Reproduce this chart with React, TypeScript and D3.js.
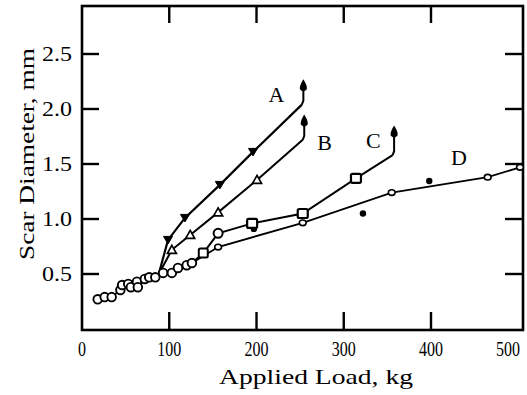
import React from "react";
import * as d3 from "d3";

const xTickValues = [0, 100, 200, 300, 400, 500];
const yTickValues = [0.5, 1.0, 1.5, 2.0, 2.5];
const yTickLabels = ["0.5", "1.0", "1.5", "2.0", "2.5"];

// shared low-load cluster
const loadCluster = [18, 26, 34, 44, 46, 53, 56, 63, 64, 72, 77, 84, 93, 103, 110, 120, 126, 139];
const diaCluster = [0.27, 0.29, 0.29, 0.355, 0.4, 0.41, 0.38, 0.43, 0.38, 0.455, 0.47, 0.47, 0.51, 0.51, 0.555, 0.58, 0.6, 0.69];

// curve A (filled down triangles)
const loadA = [88, 98.6, 118, 158, 196, 252];
const diaA = [0.5, 0.81, 1.01, 1.31, 1.61, 2.04];
const arrowA = 2.27;

// curve B (open triangles)
const loadB = [88, 103, 124, 156, 200.6, 253];
const diaB = [0.5, 0.72, 0.855, 1.06, 1.355, 1.72];
const arrowB = 1.95;

// curve C (open squares)
const loadC = [139, 156, 195, 253, 314, 356];
const diaC = [0.69, 0.87, 0.96, 1.05, 1.37, 1.58];
const arrowC = 1.85;

// curve D (small open circles)
const loadD = [126, 156, 253, 355, 465, 502];
const diaD = [0.6, 0.745, 0.965, 1.24, 1.38, 1.47];

// loose filled dots
const loadDots = [197, 322, 398];
const diaDots = [0.91, 1.05, 1.345];

const curveNames = ["A", "B", "C", "D"];
const labelLoad = [223, 278, 334, 432];
const labelDia = [2.06, 1.63, 1.65, 1.49];

const FONT = "Liberation Serif, Times New Roman, Times, serif";

export default function App() {
  const W = 527, H = 395;
  const left = 82, right = 523, top = 6, bottom = 330;
  const x = d3.scaleLinear().domain([0, 400]).range([82, 431]);
  const y = d3.scaleLinear().domain([0, 2.5]).range([329, 54]);

  const line = d3
    .line<[number, number]>()
    .x((d) => x(d[0]))
    .y((d) => y(d[1]));

  const zip = (a: number[], b: number[]) => a.map((v, i) => [v, b[i]] as [number, number]);

  const cluster = zip(loadCluster, diaCluster);
  const A = zip(loadA, diaA);
  const B = zip(loadB, diaB);
  const C = zip(loadC, diaC);
  const D = zip(loadD, diaD);

  const arrow = (px: number, tipY: number, key: string) => (
    <path
      key={key}
      d={`M${px},${tipY} C${px + 2},${tipY + 3} ${px + 4},${tipY + 7} ${px + 3.5},${tipY + 10} Q${px},${tipY + 14} ${px - 3.5},${tipY + 10} C${px - 4},${tipY + 7} ${px - 2},${tipY + 3} ${px},${tipY} Z`}
      fill="#000"
    />
  );

  const endWithArrow = (pts: [number, number][], tip: number, key: string) => {
    const last = pts[pts.length - 1];
    const ex = x(last[0]) + 1.5;
    return (
      <g key={key}>
        <path d={`M${x(last[0])},${y(last[1])} L${ex},${y(last[1]) - 4} L${ex},${y(tip) + 8}`} fill="none" stroke="#000" strokeWidth={2} />
        {arrow(ex, y(tip), key + "h")}
      </g>
    );
  };

  return (
    <svg width={W} height={H} style={{ position: "absolute", left: 0, top: 0, background: "#fff" }} fontFamily={FONT}>
      <rect width={W} height={H} fill="#fff" />
      {/* frame */}
      <rect x={left} y={top} width={right - left} height={bottom - top} fill="none" stroke="#000" strokeWidth={2.6} />
      {/* ticks */}
      {yTickValues.map((v) => (
        <g key={"yt" + v}>
          <line x1={left} x2={left + 17} y1={y(v)} y2={y(v)} stroke="#000" strokeWidth={2.4} />
          <line x1={right} x2={right - 18} y1={y(v)} y2={y(v)} stroke="#000" strokeWidth={2.4} />
        </g>
      ))}
      {xTickValues.filter((v) => v > 0 && v < 500).map((v) => (
        <g key={"xt" + v}>
          <line x1={x(v)} x2={x(v)} y1={bottom} y2={bottom - 18} stroke="#000" strokeWidth={2.4} />
          <line x1={x(v)} x2={x(v)} y1={top} y2={top + 17} stroke="#000" strokeWidth={2.4} />
        </g>
      ))}
      {/* tick labels */}
      {xTickValues.map((v) => {
        const s = String(v);
        const px = v === 500 ? 508 : x(v);
        return (
          <text key={"xl" + v} x={px - (s.length * 8) / 2} y={356} fontSize={21} textLength={s.length * 8} lengthAdjust="spacingAndGlyphs">
            {s}
          </text>
        );
      })}
      {yTickValues.map((v, i) => (
        <text key={"yl" + v} x={42} y={y(v) + 7} fontSize={21} textLength={30} lengthAdjust="spacingAndGlyphs">
          {yTickLabels[i]}
        </text>
      ))}
      {/* axis titles */}
      <text x={219} y={384} fontSize={21} textLength={194} lengthAdjust="spacingAndGlyphs">
        Applied Load, kg
      </text>
      <text transform="translate(34,154) rotate(-90)" x={-106} y={0} fontSize={21} textLength={212} lengthAdjust="spacingAndGlyphs">
        Scar Diameter, mm
      </text>

      {/* lines */}
      <g fill="none" stroke="#000" strokeWidth={2}>
        <path d={line(cluster) || ""} />
        <path d={line(A) || ""} strokeWidth={2.2} />
        <path d={line(B) || ""} />
        <path d={line(C) || ""} />
        <path d={line(D) || ""} strokeWidth={1.8} />
      </g>
      {endWithArrow(A, arrowA, "ea")}
      {endWithArrow(B, arrowB, "eb")}
      {endWithArrow(C, arrowC, "ec")}

      {/* cluster markers */}
      {cluster.map((d, i) =>
        i === cluster.length - 1 ? (
          <rect key={"c" + i} x={x(d[0]) - 4.5} y={y(d[1]) - 4.5} width={9} height={9} rx={1.5} fill="#fff" stroke="#000" strokeWidth={2} />
        ) : (
          <circle key={"c" + i} cx={x(d[0])} cy={y(d[1])} r={4.3} fill="#fff" stroke="#000" strokeWidth={1.9} />
        )
      )}
      {/* A markers: filled down triangles */}
      {A.slice(1, 5).map((d, i) => {
        const cx = x(d[0]), cy = y(d[1]);
        return <path key={"a" + i} d={`M${cx - 4.5},${cy - 3.5} L${cx + 4.5},${cy - 3.5} L${cx},${cy + 4} Z`} fill="#000" stroke="#000" strokeWidth={1} />;
      })}
      {/* B markers: open triangles */}
      {B.slice(1, 5).map((d, i) => {
        const cx = x(d[0]), cy = y(d[1]);
        return <path key={"b" + i} d={`M${cx},${cy - 4.5} L${cx + 4.5},${cy + 3.5} L${cx - 4.5},${cy + 3.5} Z`} fill="#fff" stroke="#000" strokeWidth={1.7} />;
      })}
      {/* loose filled dots */}
      {loadDots.map((v, i) => (
        <circle key={"dot" + i} cx={x(v)} cy={y(diaDots[i])} r={3.2} fill="#000" />
      ))}
      {/* C markers */}
      {C.slice(1, 5).map((d, i) =>
        i === 0 ? (
          <circle key={"cc" + i} cx={x(d[0])} cy={y(d[1])} r={4.5} fill="#fff" stroke="#000" strokeWidth={2} />
        ) : (
          <rect key={"cc" + i} x={x(d[0]) - 5} y={y(d[1]) - 4.5} width={10} height={9} rx={1.5} fill="#fff" stroke="#000" strokeWidth={2.2} />
        )
      )}
      {/* D markers */}
      {D.slice(1).map((d, i) => (
        <ellipse key={"d" + i} cx={x(d[0])} cy={y(d[1])} rx={3.4} ry={2.8} fill="#fff" stroke="#000" strokeWidth={1.6} />
      ))}

      {/* curve labels */}
      {curveNames.map((n, i) => (
        <text key={n} x={x(labelLoad[i])} y={y(labelDia[i])} fontSize={22} textAnchor="middle">
          {n}
        </text>
      ))}
    </svg>
  );
}
